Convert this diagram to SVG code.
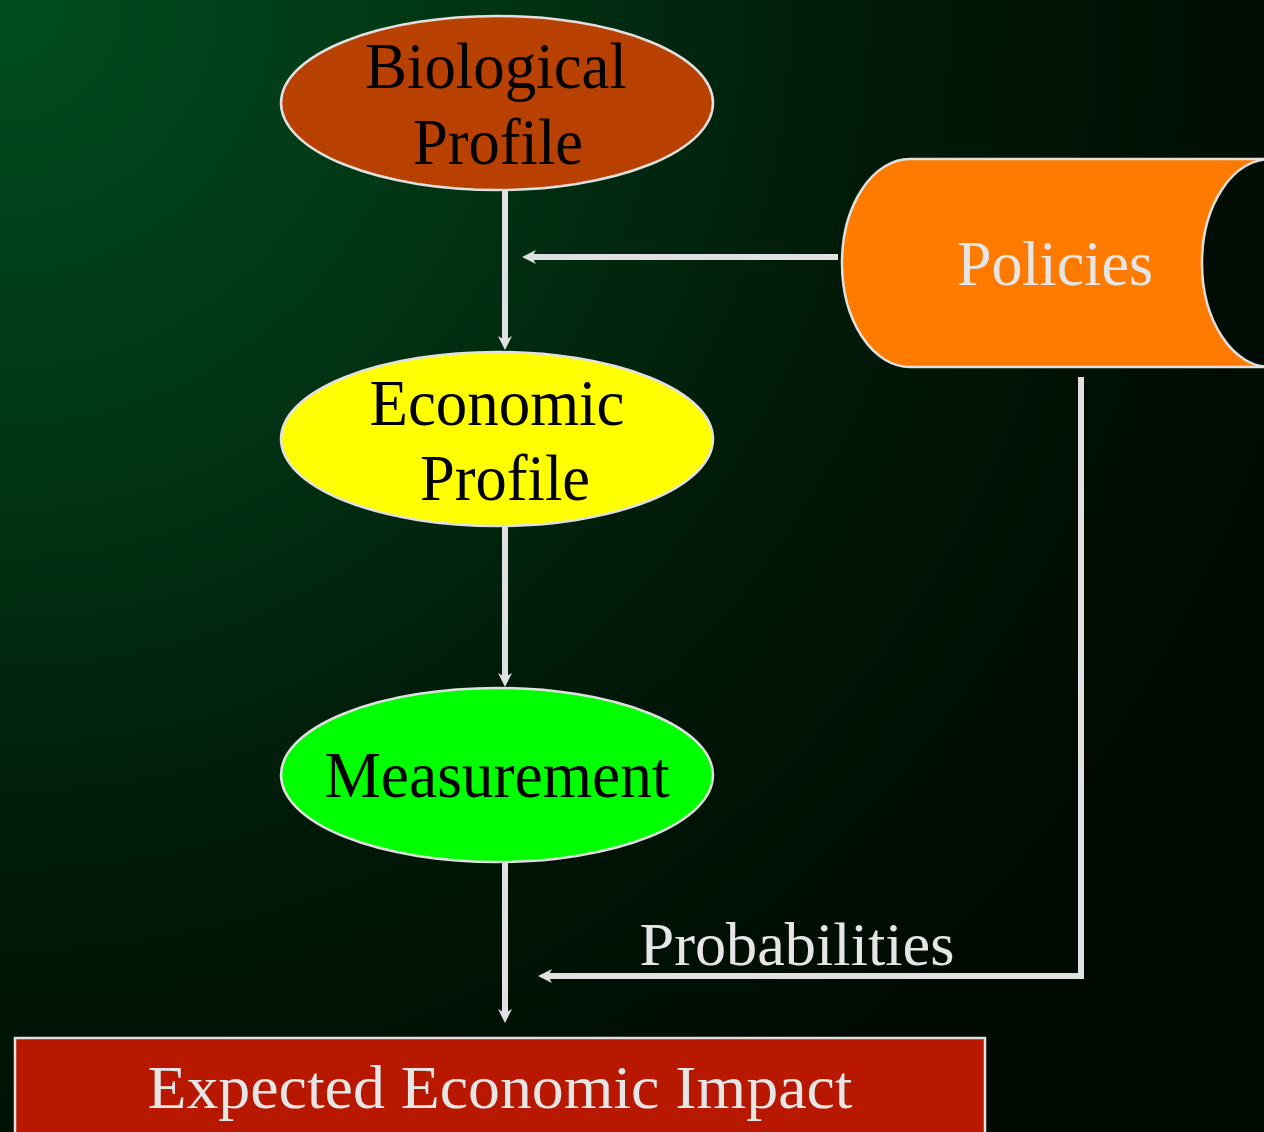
<svg xmlns="http://www.w3.org/2000/svg" width="1264" height="1132" viewBox="0 0 1264 1132">
<defs>
<radialGradient id="bg" cx="0" cy="0" r="1350" gradientUnits="userSpaceOnUse">
<stop offset="0" stop-color="#004d1e"/>
<stop offset="0.35" stop-color="#003414"/>
<stop offset="0.65" stop-color="#001a08"/>
<stop offset="1" stop-color="#000a02"/>
</radialGradient>
<marker id="ah" markerWidth="18" markerHeight="18" refX="7" refY="8" orient="auto" markerUnits="userSpaceOnUse">
<path d="M17,8 L3,1 L7,8 L3,15 Z" fill="#e0e0e0"/>
</marker>
<style>
.t{font-family:"Liberation Serif","Times New Roman",serif;text-anchor:middle}
.dk{fill:#000}
.lt{fill:#e6e6e6}
.shape{stroke:#e0e0e0;stroke-width:2.5}
.conn{stroke:#e0e0e0;stroke-width:6;fill:none}
</style>
</defs>
<rect width="1264" height="1132" fill="url(#bg)"/>
<g id="connectors">
<line class="conn" x1="505" y1="190" x2="505" y2="340" marker-end="url(#ah)"/>
<line class="conn" x1="838" y1="257" x2="532" y2="257" marker-end="url(#ah)"/>
<line class="conn" x1="505" y1="526" x2="505" y2="677" marker-end="url(#ah)"/>
<line class="conn" x1="505" y1="862" x2="505" y2="1013" marker-end="url(#ah)"/>
<polyline class="conn" points="1081,377 1081,976 548,976" marker-end="url(#ah)"/>
</g>
<g id="biological">
<ellipse class="shape" cx="497" cy="103" rx="216" ry="87" fill="#b84000"/>
<text class="t dk" x="496" y="88" font-size="66" textLength="262" lengthAdjust="spacingAndGlyphs">Biological</text>
<text class="t dk" x="498" y="164" font-size="66" textLength="170" lengthAdjust="spacingAndGlyphs">Profile</text>
</g>
<g id="economic">
<ellipse class="shape" cx="497" cy="439" rx="216" ry="87" fill="#ffff00"/>
<text class="t dk" x="497" y="425" font-size="66" textLength="255" lengthAdjust="spacingAndGlyphs">Economic</text>
<text class="t dk" x="505" y="500" font-size="66" textLength="170" lengthAdjust="spacingAndGlyphs">Profile</text>
</g>
<g id="measurement">
<ellipse class="shape" cx="497" cy="775" rx="216" ry="87" fill="#00ff00"/>
<text class="t dk" x="497" y="797" font-size="66" textLength="345" lengthAdjust="spacingAndGlyphs">Measurement</text>
</g>
<g id="policies">
<path class="shape" fill="#ff7b00" d="M1270,159 L910,159 A68,104 0 0 0 910,367 L1270,367 Z"/>
<ellipse class="shape" cx="1270" cy="263" rx="68" ry="104" fill="#000c04"/>
<text class="t lt" x="1055" y="285" font-size="64" textLength="196" lengthAdjust="spacingAndGlyphs">Policies</text>
</g>
<g id="probabilities-label">
<text class="t lt" x="797" y="965" font-size="62" textLength="315" lengthAdjust="spacingAndGlyphs">Probabilities</text>
</g>
<g id="expected">
<rect class="shape" x="15" y="1038" width="970" height="110" fill="#b81800"/>
<text class="t lt" x="500" y="1108" font-size="62" textLength="705" lengthAdjust="spacingAndGlyphs">Expected Economic Impact</text>
</g>
</svg>
